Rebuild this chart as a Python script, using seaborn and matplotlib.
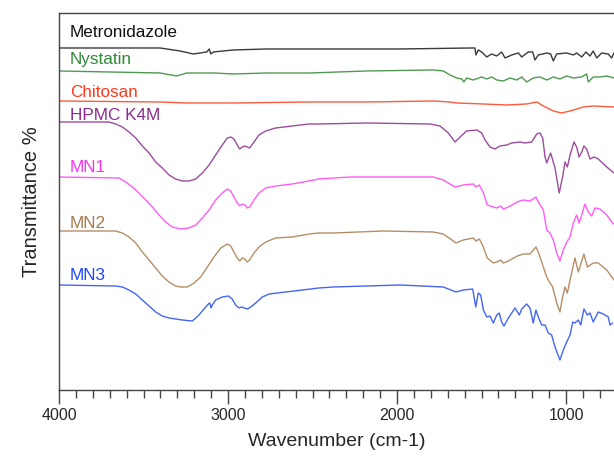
import matplotlib
matplotlib.use("Agg")
import matplotlib.pyplot as plt
from matplotlib.ticker import MultipleLocator
import pandas as pd
import seaborn as sns

# wavenumbers (cm-1) and offset transmittance
metro_wn = [4000, 3402, 3284, 3205, 3126, 3111, 3102, 3087, 2969, 2771, 2515, 1982, 1558, 1539, 1533,
            1519, 1499, 1469, 1440, 1410, 1381, 1361, 1321, 1282, 1262, 1223, 1197, 1184, 1164, 1114,
            1091, 1075, 1055, 996, 957, 937, 907, 882, 858, 839, 818, 789, 750, 730, 716]
metro_t = [342, 342, 339, 336, 338, 341, 336, 338, 340, 341, 341, 341, 342, 342, 335,
           340, 338, 333, 336, 334, 338, 332, 335, 337, 333, 338, 338, 330, 335, 337,
           336, 329, 336, 337, 335, 337, 333, 338, 334, 339, 332, 337, 336, 332, 337]

nyst_wn = [4000, 3402, 3303, 3244, 3087, 2969, 2771, 2515, 2179, 1785, 1726, 1686, 1647, 1617, 1604,
           1588, 1549, 1499, 1469, 1440, 1410, 1371, 1331, 1292, 1262, 1233, 1194, 1154, 1114, 1075,
           1036, 996, 957, 907, 878, 868, 839, 799, 759, 716]
nyst_t = [319, 317, 314, 317, 317, 316, 317, 317, 319, 320, 319, 315, 312, 311, 308,
          312, 310, 313, 311, 313, 310, 309, 312, 310, 313, 308, 312, 313, 310, 313,
          311, 314, 312, 313, 316, 308, 313, 313, 314, 312]

chito_wn = [4000, 3402, 3244, 3126, 2969, 2515, 2179, 1785, 1686, 1647, 1489, 1351, 1233, 1173, 1134,
            1075, 1026, 976, 898, 839, 716]
chito_t = [289, 288, 287, 287, 287, 288, 288, 289, 288, 287, 286, 285, 286, 288, 284,
           279, 277, 279, 283, 284, 283]

hpmc_wn = [4000, 3803, 3704, 3665, 3625, 3586, 3546, 3507, 3467, 3428, 3389, 3349, 3310, 3270, 3231,
           3191, 3152, 3112, 3073, 3034, 3004, 2984, 2965, 2945, 2931, 2915, 2901, 2886, 2872, 2846,
           2817, 2777, 2718, 2620, 2521, 2462, 2179, 1805, 1746, 1696, 1657, 1627, 1588, 1528, 1499,
           1479, 1450, 1420, 1391, 1351, 1321, 1272, 1243, 1203, 1173, 1154, 1138, 1124, 1114, 1091,
           1065, 1040, 1020, 1006, 992, 976, 953, 937, 923, 907, 894, 878, 858, 834, 809, 759, 716]
hpmc_t = [268, 268, 268, 266, 263, 258, 252, 244, 237, 228, 222, 215, 211, 209, 209,
          211, 217, 225, 235, 245, 252, 253, 251, 245, 241, 243, 244, 243, 242, 248,
          255, 259, 262, 264, 266, 266, 267, 266, 264, 257, 248, 253, 259, 260, 257,
          250, 243, 241, 244, 245, 247, 248, 247, 248, 256, 257, 252, 233, 227, 237,
          222, 197, 213, 228, 223, 235, 248, 243, 233, 238, 244, 241, 231, 233, 231, 223, 217]

mn1_wn = [4000, 3645, 3605, 3566, 3527, 3487, 3448, 3408, 3369, 3330, 3280, 3231, 3191, 3152, 3112,
          3073, 3034, 3004, 2984, 2965, 2945, 2931, 2915, 2901, 2886, 2872, 2846, 2817, 2777, 2718,
          2620, 2521, 2462, 2278, 1785, 1726, 1657, 1608, 1549, 1533, 1513, 1489, 1466, 1430, 1410,
          1386, 1371, 1341, 1288, 1253, 1213, 1178, 1164, 1134, 1114, 1095, 1075, 1055, 1036, 1016,
          996, 976, 957, 937, 923, 907, 888, 868, 848, 829, 799, 759, 720]
mn1_t = [213, 212, 208, 203, 197, 190, 183, 175, 168, 163, 161, 162, 165, 172, 180,
         190, 197, 201, 199, 193, 187, 184, 186, 185, 182, 183, 190, 197, 202, 204,
         206, 209, 211, 213, 213, 210, 203, 205, 206, 203, 205, 197, 185, 183, 182,
         184, 181, 183, 188, 190, 189, 193, 188, 180, 160, 157, 150, 137, 129, 140,
         148, 153, 167, 175, 167, 175, 186, 178, 174, 182, 181, 175, 166]

mn2_wn = [4000, 3665, 3625, 3586, 3546, 3507, 3467, 3428, 3389, 3349, 3310, 3280, 3241, 3201, 3162,
          3122, 3083, 3043, 3004, 2984, 2965, 2945, 2931, 2915, 2901, 2886, 2872, 2846, 2817, 2777,
          2718, 2620, 2521, 2462, 2377, 2081, 1785, 1726, 1651, 1608, 1549, 1533, 1513, 1489, 1466,
          1430, 1410, 1386, 1371, 1341, 1288, 1253, 1213, 1178, 1164, 1134, 1114, 1105, 1079, 1055,
          1036, 1020, 1006, 992, 976, 947, 927, 894, 874, 839, 809, 759, 716]
mn2_t = [159, 159, 157, 153, 147, 138, 130, 122, 114, 108, 104, 103, 103, 107, 113,
         123, 133, 142, 146, 144, 138, 132, 129, 132, 131, 128, 130, 137, 143, 148,
         152, 153, 156, 157, 157, 159, 158, 156, 147, 150, 152, 149, 151, 143, 132,
         127, 128, 130, 127, 129, 134, 136, 136, 143, 138, 123, 113, 110, 103, 87,
         78, 93, 103, 97, 110, 132, 118, 136, 123, 127, 127, 120, 110]

mn3_wn = [4000, 3665, 3625, 3586, 3546, 3507, 3467, 3428, 3389, 3349, 3310, 3270, 3211, 3191, 3172,
          3152, 3132, 3116, 3108, 3100, 3093, 3073, 3034, 2998, 2975, 2955, 2935, 2919, 2904, 2884,
          2866, 2836, 2797, 2757, 2659, 2560, 2462, 2377, 1982, 1726, 1651, 1608, 1552, 1534, 1519,
          1505, 1489, 1469, 1450, 1430, 1410, 1395, 1381, 1367, 1341, 1302, 1276, 1262, 1233, 1213,
          1194, 1178, 1164, 1144, 1124, 1105, 1085, 1065, 1036, 1016, 996, 976, 960, 947, 927,
          913, 894, 874, 858, 839, 809, 779, 750, 740, 724]
mn3_t = [105, 104, 103, 100, 96, 90, 84, 78, 74, 72, 71, 70, 69, 72, 75,
         79, 83, 86, 87, 82, 85, 90, 93, 94, 91, 85, 82, 83, 82, 81,
         83, 87, 93, 96, 98, 100, 102, 103, 105, 103, 98, 100, 101, 83, 97,
         95, 80, 73, 74, 67, 75, 77, 68, 64, 72, 82, 75, 81, 86, 82,
         67, 80, 73, 65, 65, 57, 55, 43, 30, 40, 48, 55, 68, 67, 70,
         65, 81, 75, 77, 68, 78, 76, 73, 65, 67]

names = ["Metronidazole", "Nystatin", "Chitosan", "HPMC K4M", "MN1", "MN2", "MN3"]
line_colors = ["#3a3a3a", "#4f9a52", "#ff5a3c", "#9b4c9e", "#ff5cf5", "#b58e66", "#4565f5"]
label_colors = ["#111111", "#2f8a36", "#ff3a20", "#8a2c8c", "#ff30f2", "#a8784a", "#1f45ff"]
label_y = [353, 326, 293, 270, 218, 162, 110]

spectra = [(metro_wn, metro_t), (nyst_wn, nyst_t), (chito_wn, chito_t), (hpmc_wn, hpmc_t),
           (mn1_wn, mn1_t), (mn2_wn, mn2_t), (mn3_wn, mn3_t)]

sns.set_style("ticks")
plt.rcParams["font.family"] = ["Liberation Sans", "DejaVu Sans"]

fig = plt.figure(figsize=(6.14, 4.57), dpi=100)
ax = fig.add_axes([0.0961, 0.1466, 0.9039, 0.8250])

for name, (wn, t), col in zip(names, spectra, line_colors):
    df = pd.DataFrame({"wn": wn, "t": t})
    sns.lineplot(data=df, x="wn", y="t", color=col, lw=1.0, ax=ax, sort=False)

for name, y, col in zip(names, label_y, label_colors):
    ax.text(3935, y, name, color=col, fontsize=12.3, va="baseline", ha="left")

ax.set_xlim(4000, 716)
ax.set_ylim(0, 377)
ax.set_yticks([])
ax.xaxis.set_major_locator(MultipleLocator(1000))
ax.xaxis.set_minor_locator(MultipleLocator(100))
ax.tick_params(axis="x", which="major", direction="out", length=10, width=1.0,
               color="#444444", labelsize=11.5, pad=3)
ax.tick_params(axis="x", which="minor", direction="out", length=6, width=1.0, color="#444444")
for s in ["left", "bottom", "top"]:
    ax.spines[s].set_color("#444444")
    ax.spines[s].set_linewidth(1.0)
ax.spines["right"].set_visible(False)
ax.set_xlabel("Wavenumber (cm-1)", fontsize=14, labelpad=7)
ax.set_ylabel("Transmittance %", fontsize=14.5, labelpad=13)

fig.savefig("out.png", dpi=100)
